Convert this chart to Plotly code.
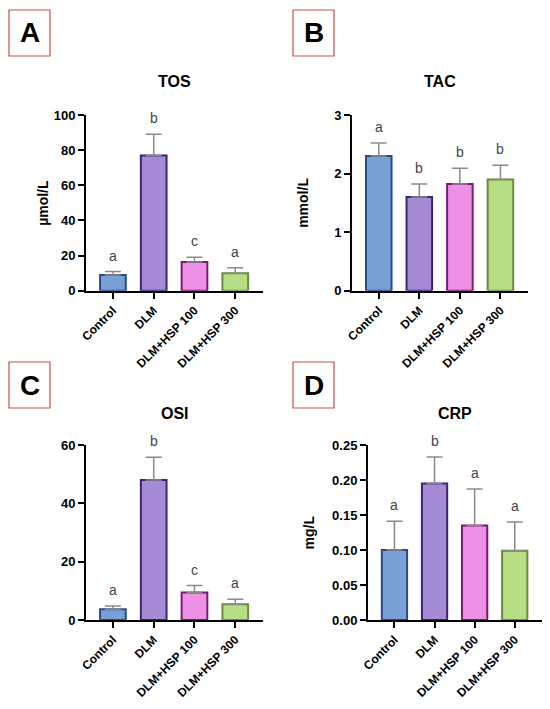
import plotly.graph_objects as go
from plotly.subplots import make_subplots

#### data
groups = ['Control', 'DLM', 'DLM+HSP 100', 'DLM+HSP 300']

tos_mean = [9.0, 77.0, 16.4, 10.0]
tos_err = [10.9, 89.0, 19.0, 13.0]
tos_letters = ['a', 'b', 'c', 'a']

tac_mean = [2.30, 1.60, 1.82, 1.90]
tac_err = [2.52, 1.82, 2.09, 2.14]
tac_letters = ['a', 'b', 'b', 'b']

osi_mean = [3.7, 48.0, 9.4, 5.4]
osi_err = [4.8, 55.8, 11.8, 7.1]
osi_letters = ['a', 'b', 'c', 'a']

crp_mean = [0.100, 0.195, 0.135, 0.099]
crp_err = [0.141, 0.233, 0.187, 0.140]
crp_letters = ['a', 'b', 'a', 'a']

fill_colors = ['#7aa0d8', '#a58bd6', '#ee90e6', '#b8de85']
line_colors = ['#2a4a80', '#3c2470', '#7a1a70', '#6a8a40']

# page has an 8px body margin, so the figure is drawn a bit smaller
PAD = 8
W, H = 550 - 2 * PAD, 709 - 2 * PAD
FONT = 'Liberation Sans, Arial'


def px_x(p):
    return min(max((p - PAD) / W, 0), 1)


def px_y(p):
    return min(max(1 - (p - PAD) / H, 0), 1)


# (letter, title, ytitle, means, tops, letters, yrange, dtick, tickformat, x span px, y span px, ytitle x px)
panels = [
    ('A', 'TOS', 'µmol/L', tos_mean, tos_err, tos_letters, [0, 100], 20, 'd', (86, 263), (115, 290.7), 43),
    ('B', 'TAC', 'mmol/L', tac_mean, tac_err, tac_letters, [0, 3], 1, 'd', (352, 528), (115, 290.7), 303),
    ('C', 'OSI', '', osi_mean, osi_err, osi_letters, [0, 60], 20, 'd', (86, 263), (445, 620), 43),
    ('D', 'CRP', 'mg/L', crp_mean, crp_err, crp_letters, [0, 0.25], 0.05, '.2f', (368, 542), (445, 620), 308),
]
box_pos = {'A': (9, 10), 'B': (293, 10), 'C': (9, 362), 'D': (293, 362)}
title_y = {'A': 82, 'B': 82, 'C': 413, 'D': 413}

fig = make_subplots(rows=2, cols=2)
annotations = []
shapes = []

for i, (lab, title, ytitle, means, tops, letters, yrange, dtick, tfmt, xs, ys, ytx) in enumerate(panels):
    r, c = i // 2 + 1, i % 2 + 1
    err_up = [t - m for t, m in zip(tops, means)]
    fig.add_trace(go.Bar(
        x=list(range(len(groups))), y=means, width=0.63,
        marker=dict(color=fill_colors, line=dict(color=line_colors, width=2)),
        error_y=dict(type='data', symmetric=False, array=err_up, arrayminus=[0] * len(groups),
                     color='#8a8a8a', thickness=1.5, width=8),
        showlegend=False), row=r, col=c)

    xdom = [px_x(xs[0]), px_x(xs[1])]
    ydom = [px_y(ys[1]), px_y(ys[0])]
    n = '' if i == 0 else str(i + 1)
    fig.update_xaxes(domain=xdom, range=[-0.66, 3.68], tickvals=list(range(len(groups))), ticktext=groups,
                     tickangle=-45, ticks='outside', ticklen=6, tickwidth=2, tickcolor='black',
                     showline=True, linecolor='black', linewidth=2, showgrid=False, zeroline=False,
                     automargin=False,
                     tickfont=dict(family=FONT, size=12, color='black', weight='bold'), row=r, col=c)
    fig.update_yaxes(domain=ydom, range=yrange, dtick=dtick, tick0=0, tickformat=tfmt,
                     ticks='outside', ticklen=6, tickwidth=2, tickcolor='black',
                     showline=True, linecolor='black', linewidth=2, showgrid=False, zeroline=False,
                     automargin=False,
                     tickfont=dict(family=FONT, size=13, color='black', weight='bold'), row=r, col=c)

    # significance letters above the error bars
    for k, (t, l) in enumerate(zip(tops, letters)):
        annotations.append(dict(x=k, y=t, xref='x' + n, yref='y' + n, text=l, showarrow=False,
                                yanchor='middle', yshift=16, font=dict(family=FONT, size=14, color='#444444')))
    # panel title
    annotations.append(dict(x=px_x((xs[0] + xs[1]) / 2), y=px_y(title_y[lab]),
                            xref='paper', yref='paper', text='<b>' + title + '</b>', showarrow=False,
                            xanchor='center', yanchor='middle', font=dict(family=FONT, size=16, color='black')))
    # y axis title
    if ytitle:
        annotations.append(dict(x=px_x(ytx), y=(ydom[0] + ydom[1]) / 2, xref='paper', yref='paper',
                                text='<b>' + ytitle + '</b>', showarrow=False, textangle=-90,
                                xanchor='center', yanchor='middle', font=dict(family=FONT, size=14, color='black')))
    # panel letter box
    bx, by = box_pos[lab]
    shapes.append(dict(type='rect', xref='paper', yref='paper', x0=px_x(bx), x1=px_x(bx + 41),
                       y0=px_y(by + 46), y1=px_y(by), line=dict(color='#c0504d', width=1.2)))
    annotations.append(dict(x=px_x(bx + 20.5), y=px_y(by + 23), xref='paper', yref='paper',
                            text='<b>' + lab + '</b>', showarrow=False, xanchor='center', yanchor='middle',
                            font=dict(family=FONT, size=28, color='black')))

fig.update_layout(width=W, height=H, margin=dict(l=0, r=0, t=0, b=0),
                  paper_bgcolor='white', plot_bgcolor='white',
                  annotations=annotations, shapes=shapes)

fig.write_html("out.html")
